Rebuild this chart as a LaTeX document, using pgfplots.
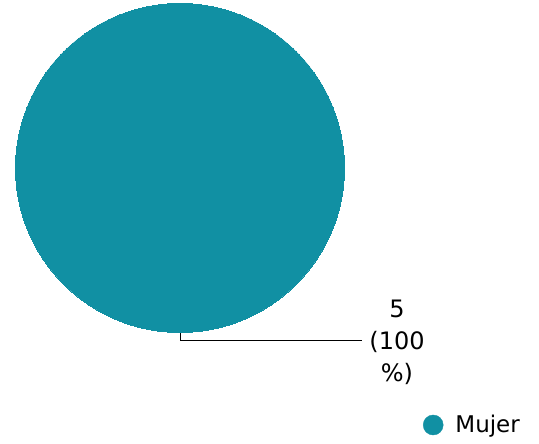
\documentclass[border=0pt]{standalone}
\usepackage{pgfplots}
\pgfplotsset{compat=1.18}
\usepackage{fontspec}
\setmainfont{DejaVu Sans}
\definecolor{pie}{HTML}{1190A3}
\begin{document}
\begin{tikzpicture}
\begin{axis}[scale only axis, width=539pt, height=444pt,
  xmin=0, xmax=539, ymin=0, ymax=444, hide axis, clip=false,
  legend style={at={(axis cs:423,19)}, anchor=west, draw=none, fill=none,
    font=\fontsize{23}{27}\selectfont, inner sep=0pt, outer sep=0pt,
    /tikz/every odd column/.append style={column sep=10pt}},
  legend cell align=left]
\path (axis cs:0,0) rectangle (axis cs:539,444);
\addplot[only marks, mark=*, mark size=164.5pt, mark options={fill=pie, draw=pie, line width=0pt},
  legend image code/.code={\fill[pie] (10pt,0pt) circle (10pt);}]
  coordinates {(180,276)};
\addlegendentry{Mujer}
\addplot[black, line width=1pt, forget plot] coordinates {(180,128) (180,103) (362,103)};
\node[align=center, font=\fontsize{24}{32}\selectfont, inner sep=0pt] at (axis cs:397,102) {5\\(100\\\%)};
\end{axis}
\end{tikzpicture}
\end{document}
